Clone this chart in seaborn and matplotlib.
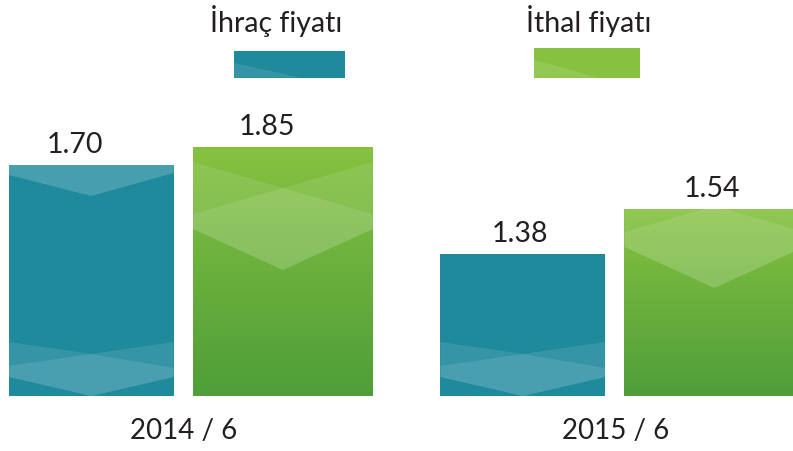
import numpy as np
import matplotlib.pyplot as plt
import seaborn as sns
from matplotlib.patches import Polygon, Rectangle
from matplotlib.transforms import IdentityTransform, ScaledTranslation
from matplotlib.colors import LinearSegmentedColormap

# data
periods = ['2014 / 6', '2015 / 6']
series = ['İhraç fiyatı', 'İthal fiyatı']
export_price = [1.70, 1.38]
import_price = [1.85, 1.54]

# style
W, H = 793, 451
TEAL = '#1f8a9c'
GREEN_TOP = '#86c240'
GREEN_BOT = '#4f9e39'
INK = '#231f20'

sns.set_theme(style='white')
plt.rcParams['font.family'] = ['Lato', 'DejaVu Sans']

fig = plt.figure(figsize=(W / 100, H / 100), dpi=100)
ax = fig.add_axes([0, 55 / H, 1, 296 / H])
ax2 = ax.twinx()

idx = np.arange(len(periods))
sns.barplot(x=idx - 0.231, y=export_price, native_scale=True, width=0.382,
            color=TEAL, saturation=1, linewidth=0, ax=ax)
sns.barplot(x=idx + 0.213, y=import_price, native_scale=True, width=0.417,
            color=GREEN_TOP, saturation=1, linewidth=0, ax=ax2)


def set_limits():
    ax.set_xlim(-0.4426, 1.3952)
    ax.set_ylim(0.8694, 1.9337)
    ax2.set_ylim(0.605, 2.085)


# green gradient
cmap = LinearSegmentedColormap.from_list('g', [GREEN_BOT, GREEN_TOP])
grad = np.linspace(1, 0, 256).reshape(-1, 1)
for p in ax2.patches:
    x, w, h = p.get_x(), p.get_width(), p.get_height()
    im = ax2.imshow(grad, cmap=cmap, extent=[x, x + w, 0.605, h],
                    aspect='auto', zorder=p.get_zorder() + 0.1)
    im.set_clip_path(p)

set_limits()

for a in (ax, ax2):
    sns.despine(ax=a, left=True, bottom=True, right=True, top=True)
    a.set_yticks([])
    a.set_ylabel('')
    a.set_xlabel('')
ax.set_xticks(idx, periods)
ax.tick_params(axis='x', length=0, pad=16, labelsize=20, labelcolor=INK)
for lab in ax.get_xticklabels():
    lab.set_transform(lab.get_transform() +
                      ScaledTranslation(-0.07, 0, fig.dpi_scale_trans))


def deco(target, patch, pts, alpha):
    poly = Polygon(pts, closed=True, transform=IdentityTransform(),
                   facecolor='white', alpha=alpha, lw=0, zorder=5)
    poly.set_clip_path(patch)
    target.add_artist(poly)


def bar_px(a, p):
    x0, top = a.transData.transform((p.get_x(), p.get_height()))
    x1 = a.transData.transform((p.get_x() + p.get_width(), 0))[0]
    return x0, x1, (x0 + x1) / 2, top, ax.bbox.y0


# teal bar overlays
for i, p in enumerate(ax.patches):
    x0, x1, xc, T, B = bar_px(ax, p)
    deco(ax, p, [(x0, B + 54), (xc, B + 42), (x1, B + 54), (x1, B + 19),
                 (xc, B), (x0, B + 19)], 0.1)
    deco(ax, p, [(x0, B + 30), (xc, B + 42), (x1, B + 28), (x1, B + 19),
                 (xc, B), (x0, B + 19)], 0.1)
    if i == 0:
        deco(ax, p, [(x0, T), (x1, T), (x1, T - 8), (xc, T - 31),
                     (x0, T - 10)], 0.18)

# green bar overlays
centre_shift = [-41, 3]
for p, s in zip(ax2.patches, centre_shift):
    x0, x1, xc, T, B = bar_px(ax2, p)
    c = T + s
    deco(ax2, p, [(x0, c + 26), (xc, c), (x1, c + 26), (x1, c - 41),
                  (xc, c - 82), (x0, c - 41)], 0.1)
    deco(ax2, p, [(x0, c - 26), (xc, c), (x1, c - 26), (x1, c - 41),
                  (xc, c - 82), (x0, c - 41)], 0.1)

# value labels (slightly left of bar centre, as in the original)
label_shift = [-11.5, -1.8]
for a, vals in ((ax, export_price), (ax2, import_price)):
    for p, v, dx in zip(a.patches, vals, label_shift):
        a.annotate(f'{v:.2f}', xy=(p.get_x() + p.get_width() / 2, p.get_height()),
                   xytext=(dx, 8.6), textcoords='offset points', ha='center',
                   va='baseline', fontsize=20.5, color=INK, zorder=10)

# legend drawn at the top
def px(x, y):
    return (x, H - y)

leg = [(series[0], TEAL, 276, (234, 51, 345, 77.7)),
       (series[1], GREEN_TOP, 589, (534, 47.7, 640, 77.7))]
for label, col, tx, (lx0, ly0, lx1, ly1) in leg:
    fig.text(tx / W, 1 - 32 / H, label, ha='center', va='baseline',
             fontsize=20.5, color=INK)
    r = Rectangle(px(lx0, ly1), lx1 - lx0, ly1 - ly0, facecolor=col, lw=0,
                  transform=IdentityTransform())
    fig.add_artist(r)
    tri = Polygon([px(lx0, ly0 + 12), px(lx0 + (lx1 - lx0) * 0.6, ly1),
                   px(lx0, ly1)], closed=True, facecolor='white', alpha=0.1,
                  lw=0, transform=IdentityTransform())
    fig.add_artist(tri)

set_limits()
fig.savefig('out.png', dpi=100)
